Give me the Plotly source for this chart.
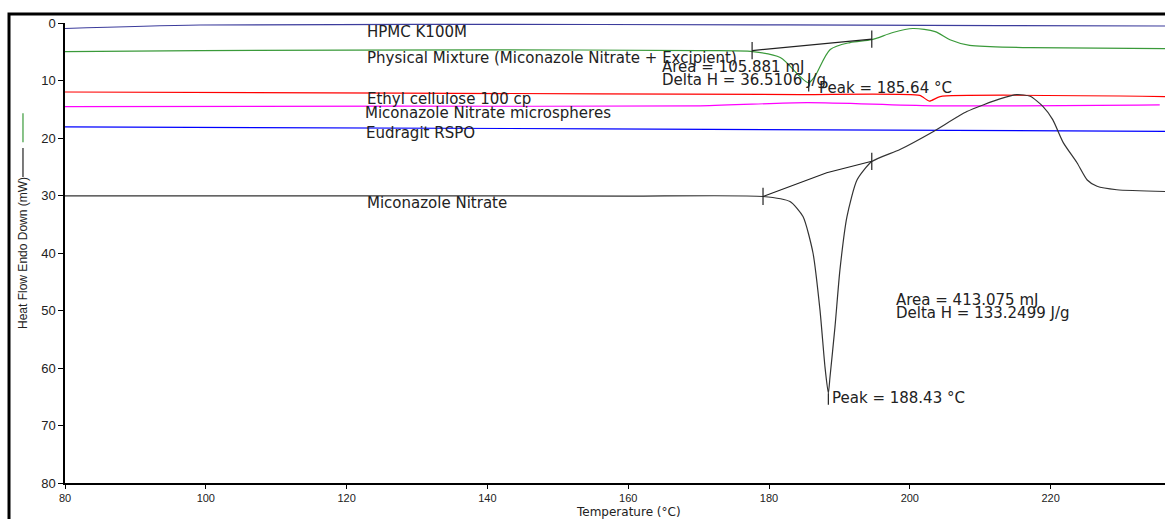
import plotly.graph_objects as go

# ---- data (temperature °C, heat flow mW) ----
hpmc_x = [80, 99.2, 156, 212.8, 236.25]
hpmc_y = [0.96, 0.35, 0.26, 0.44, 0.52]

mix_x = [80, 99.2, 139.9, 170.2, 177.7, 181.6, 184.4, 185.64, 186.5, 188.7, 191.5, 194.6, 197.6, 200.45, 203.6, 205.7, 208.5, 211.4, 217.1, 236.25]
mix_y = [4.97, 4.8, 4.67, 4.8, 4.97, 6.0, 9.3, 10.4, 9.3, 4.6, 3.4, 2.9, 1.65, 0.96, 1.5, 2.9, 3.9, 4.1, 4.27, 4.44]

ec_x = [80, 127.6, 184.4, 201.4, 202.8, 204.3, 236.25]
ec_y = [12.0, 12.2, 12.45, 12.6, 13.6, 12.8, 12.8]

mns_x = [80, 127.6, 170.2, 185.4, 203.3, 235.5]
mns_y = [14.55, 14.46, 14.4, 13.85, 14.4, 14.25]

eud_x = [80, 156, 236.25]
eud_y = [18.08, 18.4, 18.85]

mn_x = [80, 127.6, 160, 179.15, 182.98, 184.83, 186.25, 187.24, 187.95, 188.43, 188.66, 189.37, 190.08, 191.07, 192.5, 194.6, 198.6, 203.3, 208.1, 212.8, 215.2, 217.1, 218.9, 220.3, 221.8, 223.75, 225.2, 226.6, 229.4, 236.25]
mn_y = [30.05, 30.05, 30.1, 30.17, 31.05, 33.66, 40.0, 49.9, 59.8, 64.4, 61.6, 52.9, 42.9, 33.7, 27.3, 24.1, 22.0, 18.9, 15.4, 13.2, 12.45, 12.75, 14.5, 16.8, 20.8, 24.3, 27.3, 28.4, 29.0, 29.3]

# integration baselines / limits
mix_base_x = [177.6, 194.6]
mix_base_y = [4.8, 2.8]
mix_peak = [185.64, 10.9]
mn_base_x = [179.15, 188.2, 194.6]
mn_base_y = [30.17, 26.05, 24.05]
mn_peak = [188.43, 65.4]

labels = [
    ("HPMC K100M", 122.6, 1.55),
    ("Physical Mixture (Miconazole Nitrate + Excipient)", 122.6, 6.0),
    ("Area = 105.881 mJ", 164.5, 7.6),
    ("Delta H = 36.5106 J/g", 164.5, 9.95),
    ("Peak = 185.64 °C", 186.8, 11.3),
    ("Ethyl cellulose 100 cp", 122.6, 13.15),
    ("Miconazole Nitrate microspheres", 122.3, 15.7),
    ("Eudragit RSPO", 122.5, 19.1),
    ("Miconazole Nitrate", 122.6, 31.3),
    ("Area = 413.075 mJ", 197.75, 48.1),
    ("Delta H = 133.2499 J/g", 197.75, 50.5),
    ("Peak = 188.43 °C", 188.7, 65.2),
]

FONT = "DejaVu Sans, Liberation Sans, Arial"
fig = go.Figure()

def curve(x, y, color, shape="spline", smooth=0.8, w=1.2):
    fig.add_trace(go.Scatter(x=x, y=y, mode="lines",
                             line=dict(color=color, width=w, shape=shape, smoothing=smooth),
                             showlegend=False, hoverinfo="skip"))

curve(hpmc_x, hpmc_y, "#3c3c9c")
curve(ec_x, ec_y, "#ff0000", smooth=0.5)
curve(mns_x, mns_y, "#ff00ff")
curve(eud_x, eud_y, "#0000ff")
curve(mix_x, mix_y, "#3a9a3a")
curve(mn_x, mn_y, "#333333", smooth=0.6)

# baselines
curve(mix_base_x, mix_base_y, "#222222", shape="linear")
curve(mn_base_x, mn_base_y, "#222222", shape="linear")

# vertical limit ticks
def vtick(x, y, h=1.5):
    fig.add_trace(go.Scatter(x=[x, x], y=[y - h, y + h], mode="lines",
                             line=dict(color="#222222", width=1.2),
                             showlegend=False, hoverinfo="skip"))

for xx, yy in zip(mix_base_x, mix_base_y):
    vtick(xx, yy)
vtick(mn_base_x[0], mn_base_y[0])
vtick(mn_base_x[-1], mn_base_y[-1])
vtick(mix_peak[0], mix_peak[1], 1.0)
vtick(mn_peak[0], mn_peak[1], 1.0)

for txt, x, y in labels:
    fig.add_annotation(x=x, y=y, text=txt, showarrow=False, xanchor="left", yanchor="middle",
                       font=dict(family=FONT, size=15, color="#222222"))

# axis titles as annotations
fig.add_annotation(xref="paper", yref="paper", x=0.512, y=-0.063, text="Temperature (°C)",
                   showarrow=False, xanchor="center", yanchor="middle",
                   font=dict(family=FONT, size=12, color="#222222"))
fig.add_annotation(xref="paper", yref="paper", x=-0.0382, y=0.5, text="Heat Flow Endo Down (mW)",
                   showarrow=False, xanchor="center", yanchor="middle", textangle=-90,
                   font=dict(family="Liberation Sans, Arial", size=12, color="#222222"))

# legend glyph lines beside y title
fig.add_shape(type="line", xref="paper", yref="paper", x0=-0.0382, x1=-0.0382, y0=0.741, y1=0.804,
              line=dict(color="#3a9a3a", width=1.2))
fig.add_shape(type="line", xref="paper", yref="paper", x0=-0.0382, x1=-0.0382, y0=0.665, y1=0.728,
              line=dict(color="#222222", width=1.2))

# outer frame
fig.add_shape(type="rect", xref="paper", yref="paper", x0=-0.0509, x1=1.05, y0=-0.2, y1=1.0196,
              line=dict(color="black", width=3), fillcolor="rgba(0,0,0,0)", layer="above")

fig.update_xaxes(range=[80, 236.25], tickvals=[80, 100, 120, 140, 160, 180, 200, 220],
                 showline=True, linecolor="black", linewidth=1.5, ticks="outside", ticklen=4,
                 tickcolor="black", showgrid=False, zeroline=False,
                 tickfont=dict(family="Liberation Sans, Arial", size=11, color="#222222"))
fig.update_yaxes(range=[80, 0], tickvals=[0, 10, 20, 30, 40, 50, 60, 70, 80],
                 showline=True, linecolor="black", linewidth=1.5, ticks="outside", ticklen=5,
                 tickcolor="black", showgrid=False, zeroline=False,
                 tickfont=dict(family="Liberation Sans, Arial", size=13, color="#222222"))

fig.update_layout(width=1165, height=519, margin=dict(l=65, r=0, t=23, b=36),
                  plot_bgcolor="white", paper_bgcolor="white")

fig.write_html("out.html")
